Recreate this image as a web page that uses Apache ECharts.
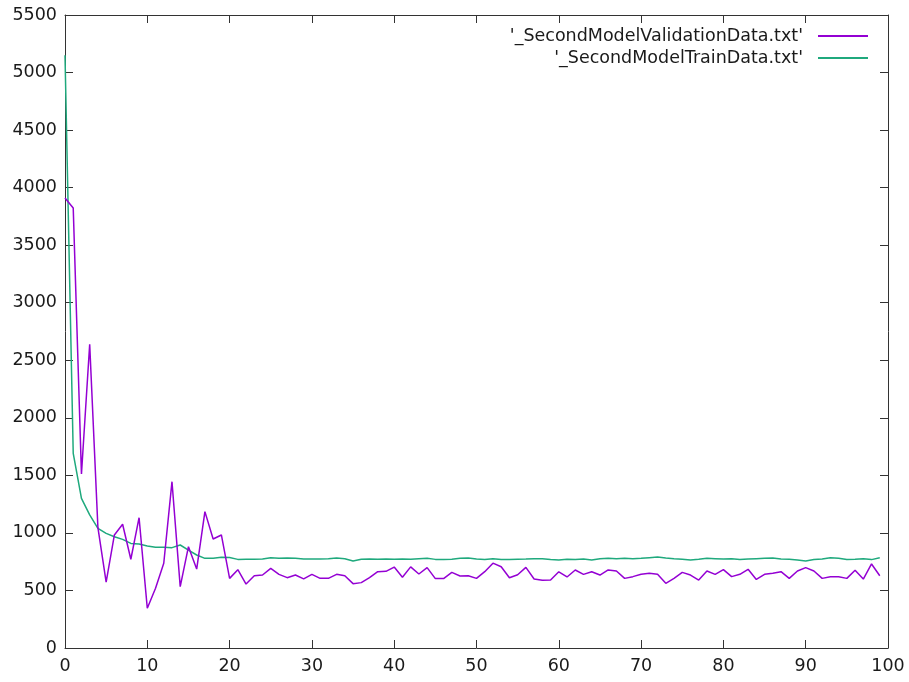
<!DOCTYPE html>
<html>
<head>
<meta charset="utf-8">
<script src="https://cdn.jsdelivr.net/npm/echarts@6/dist/echarts.min.js"></script>
<style>
html,body{margin:0;padding:0;background:#fff;}
#c{width:909px;height:682px;}
</style>
</head>
<body>
<div id="c"></div>
<script>
const seriesNames = ["'_SecondModelValidationData.txt'", "'_SecondModelTrainData.txt'"];
const epochs = Array.from({length: 100}, (_, i) => i);
const validation = [
3910,3823,1512,2639,1045,573,982,1075,771,1132,
345,519,736,1445,533,880,686,1185,947,982,
605,680,556,628,634,692,640,611,634,600,
640,605,605,640,628,559,568,611,663,666,
703,614,705,643,698,603,603,657,626,628,
605,663,737,706,611,637,701,600,589,590,
662,617,678,640,663,634,678,669,605,620,
640,649,640,562,605,657,634,590,669,640,
681,620,640,684,596,640,649,663,605,669,
698,669,605,620,620,605,675,599,730,628
];
const train = [
5150,1692,1300,1156,1040,996,967,944,909,903,
886,875,875,872,895,851,808,779,779,788,
786,770,771,771,773,785,779,782,779,773,
773,773,776,782,776,756,771,773,771,773,
771,773,771,776,779,770,768,771,779,782,
773,768,776,768,768,771,773,776,776,768,
765,771,768,773,765,776,779,776,779,776,
779,785,790,782,776,771,765,771,779,776,
773,776,768,773,776,779,782,773,771,765,
756,768,773,785,779,768,771,776,768,785
];
const xTicks = [0,10,20,30,40,50,60,70,80,90,100];
const yTicks = [0,500,1000,1500,2000,2500,3000,3500,4000,4500,5000,5500];

const colors = ['#9400d3', '#1fa97d'];
const axisColor = '#333';
const font = 'DejaVu Sans';
const fs = 17.5;

const chart = echarts.init(document.getElementById('c'), null, {renderer: 'canvas'});
const baseX = {
  type: 'value', min: xTicks[0], max: xTicks[xTicks.length-1], interval: 10,
  axisLine: {show: true, onZero: false, lineStyle: {color: axisColor, width: 1}},
  axisTick: {show: true, inside: true, length: 8, lineStyle: {color: axisColor, width: 1}},
  splitLine: {show: false}
};
const baseY = {
  type: 'value', min: yTicks[0], max: yTicks[yTicks.length-1], interval: 500,
  axisLine: {show: true, onZero: false, lineStyle: {color: axisColor, width: 1}},
  axisTick: {show: true, inside: true, length: 8, lineStyle: {color: axisColor, width: 1}},
  splitLine: {show: false}
};
const legendBase = {
  orient: 'horizontal', right: 41, align: 'right', icon: 'rect',
  itemWidth: 50, itemHeight: 2, itemGap: 0,
  textStyle: {fontFamily: font, fontSize: fs, color: '#1a1a1a', padding: [0, 10, 0, 0]},
  padding: 0, selectedMode: false
};
chart.setOption({
  animation: false,
  backgroundColor: '#fff',
  grid: {left: 65, top: 15, right: 21, bottom: 34, containLabel: false},
  legend: [
    Object.assign({}, legendBase, {top: 27, data: [seriesNames[0]]}),
    Object.assign({}, legendBase, {top: 49, data: [seriesNames[1]]})
  ],
  xAxis: [
    Object.assign({}, baseX, {position: 'bottom',
      axisLabel: {show: true, margin: 9, fontFamily: font, fontSize: fs, color: '#1a1a1a',
        formatter: v => String(v)}}),
    Object.assign({}, baseX, {position: 'top', axisLabel: {show: false}})
  ],
  yAxis: [
    Object.assign({}, baseY, {position: 'left',
      axisLabel: {show: true, margin: 8, fontFamily: font, fontSize: fs, color: '#1a1a1a',
        formatter: v => String(v)}}),
    Object.assign({}, baseY, {position: 'right', axisLabel: {show: false}})
  ],
  series: [
    {
      name: seriesNames[0], type: 'line', xAxisIndex: 0, yAxisIndex: 0,
      data: epochs.map((e, i) => [e, validation[i]]),
      symbol: 'none', lineStyle: {color: colors[0], width: 1.5}, itemStyle: {color: colors[0]}, z: 3
    },
    {
      name: seriesNames[1], type: 'line', xAxisIndex: 0, yAxisIndex: 0,
      data: epochs.map((e, i) => [e, train[i]]),
      symbol: 'none', lineStyle: {color: colors[1], width: 1.5}, itemStyle: {color: colors[1]}, z: 2
    }
  ]
});
</script>
</body>
</html>
